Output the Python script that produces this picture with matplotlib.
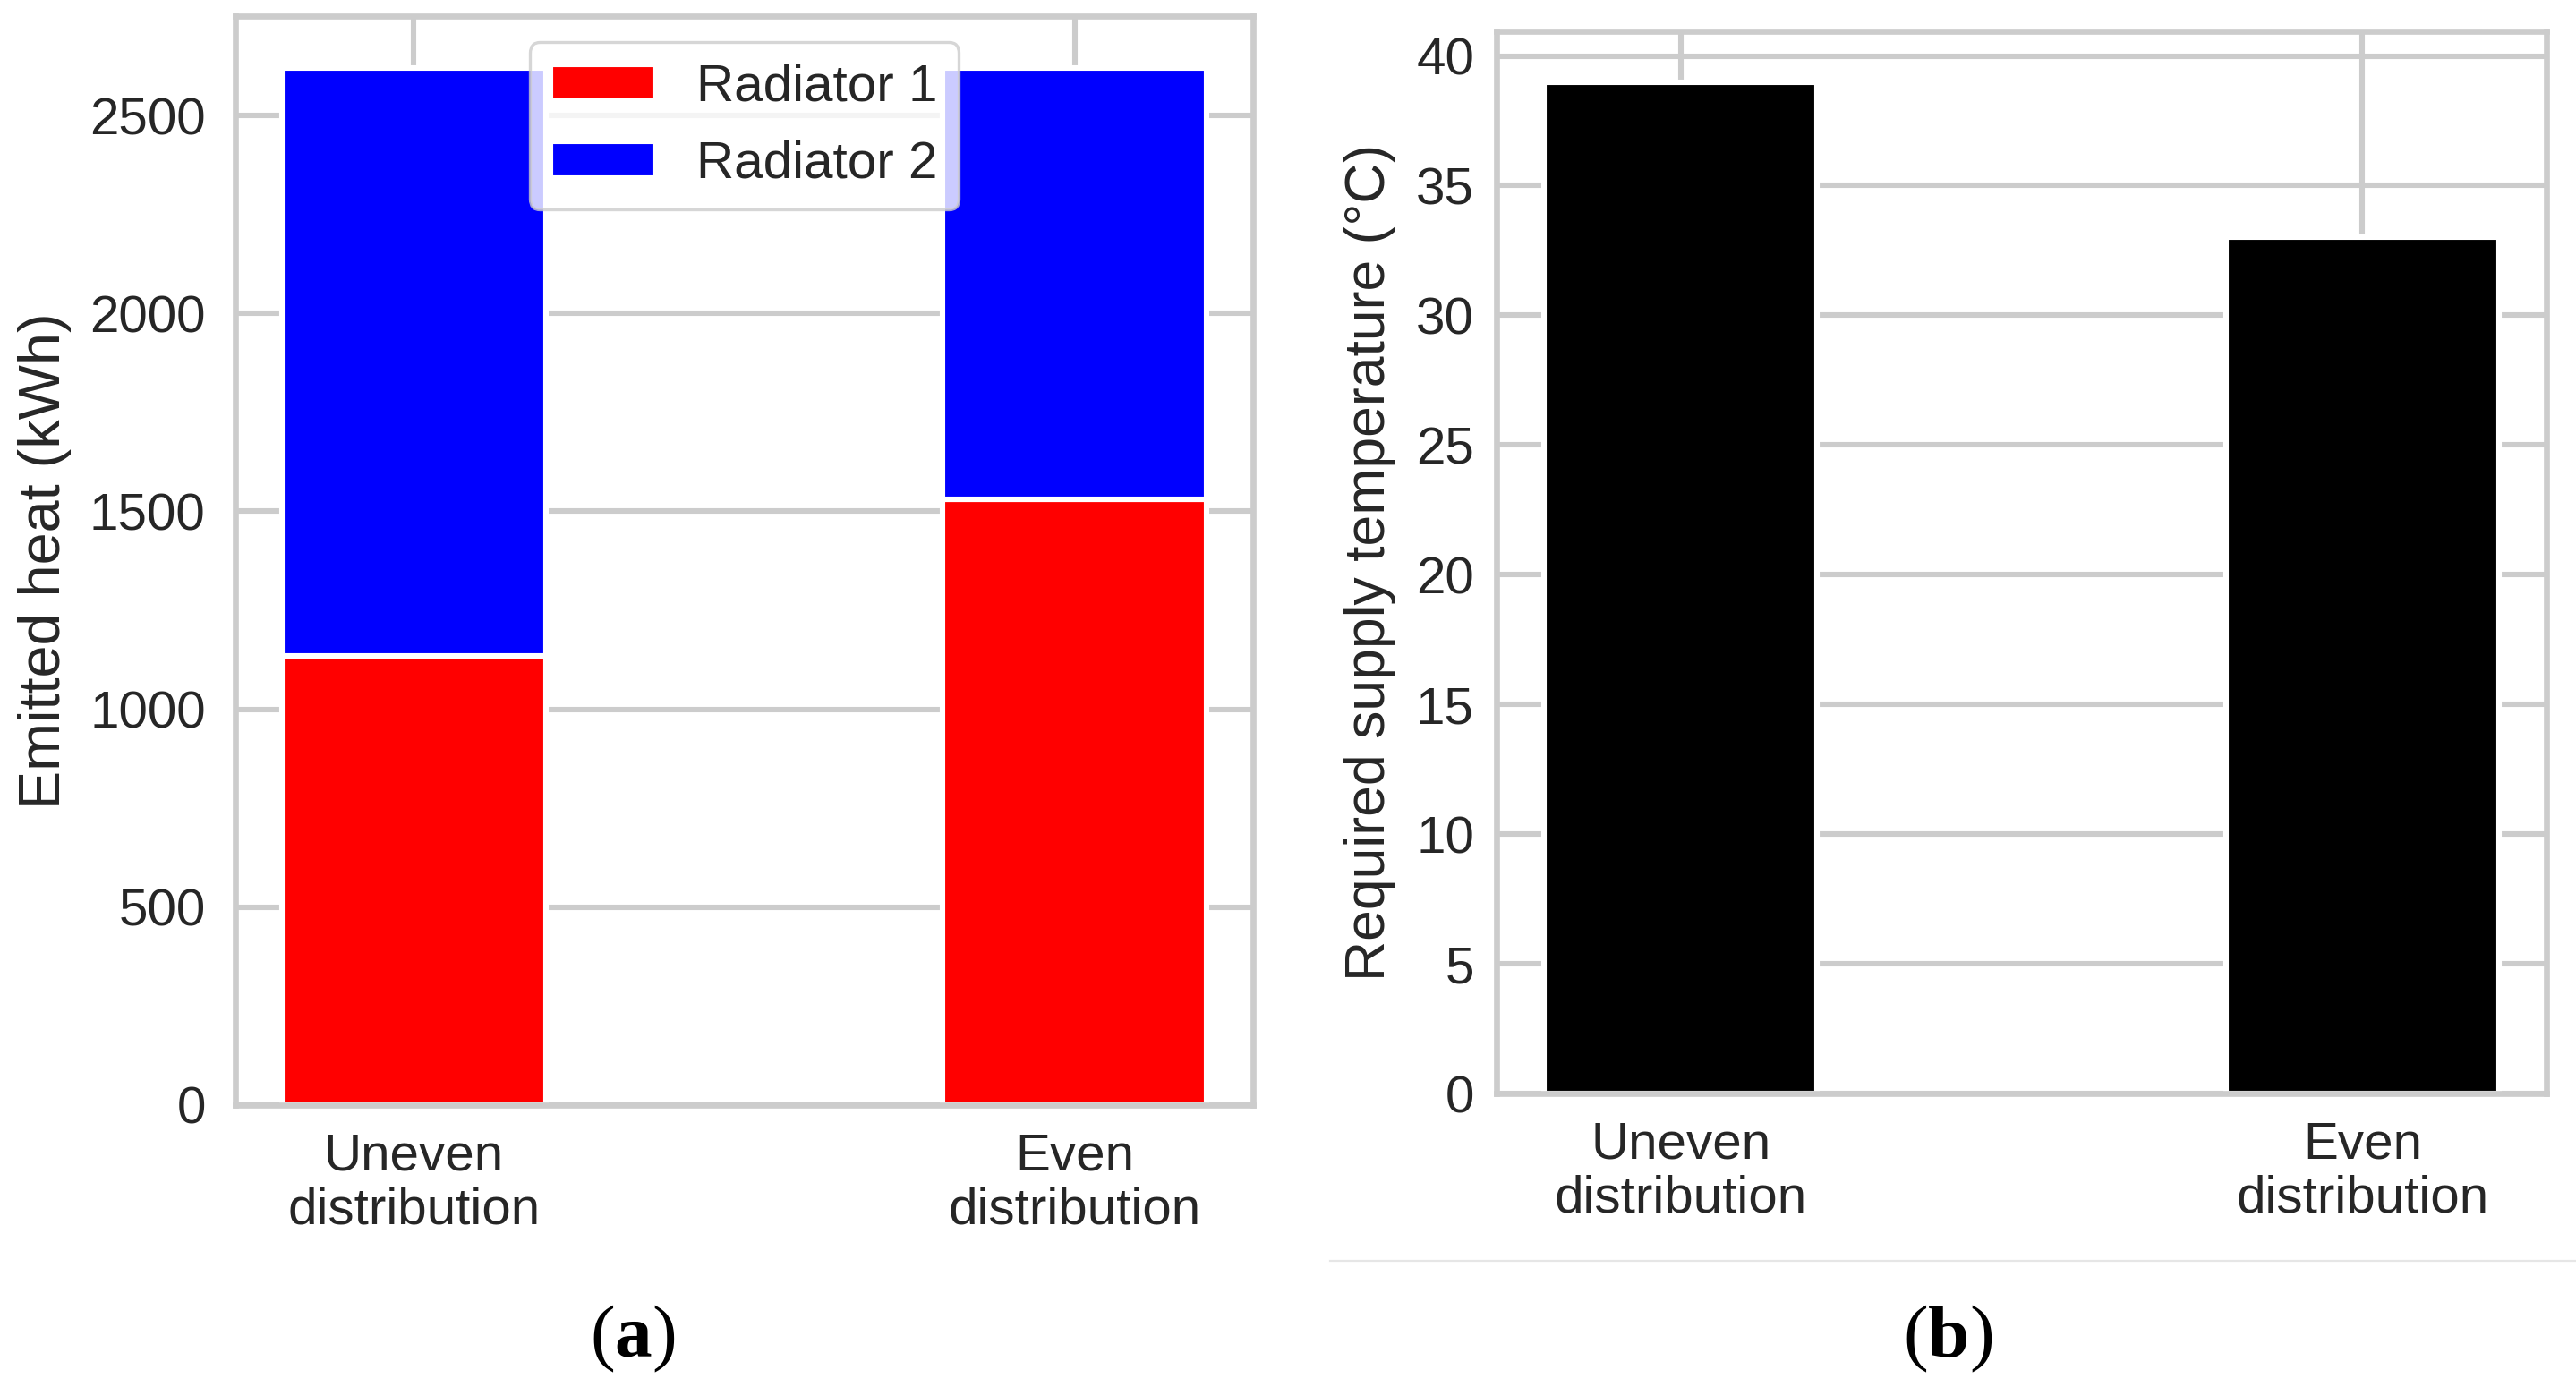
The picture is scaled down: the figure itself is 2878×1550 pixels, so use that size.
#! /usr/bin/python3
"""Emitted heat per radiator and required supply temperature, two panels."""

import matplotlib
matplotlib.use("Agg")
import matplotlib.pyplot as plt
from matplotlib.lines import Line2D

categories = ["Uneven\ndistribution", "Even\ndistribution"]
radiator_1 = [1135, 1530]
radiator_2 = [1485, 1090]
supply_temperature = [39.0, 33.0]

heat_ticks = [0, 500, 1000, 1500, 2000, 2500]
temp_ticks = [0, 5, 10, 15, 20, 25, 30, 35, 40]

GRAY = "#cccccc"
TEXT = "#262626"

plt.rcParams["font.family"] = ["Liberation Sans", "DejaVu Sans"]
plt.rcParams["mathtext.fontset"] = "custom"
plt.rcParams["mathtext.bf"] = "Liberation Serif:bold"
plt.rcParams["mathtext.rm"] = "Liberation Serif"
plt.rcParams["text.color"] = TEXT
plt.rcParams["axes.labelcolor"] = TEXT
plt.rcParams["xtick.color"] = TEXT
plt.rcParams["ytick.color"] = TEXT

fig = plt.figure(figsize=(14.39, 7.75), dpi=200)
W, H = 2878.0, 1550.0


def box(x0, x1, top, bottom):
  return [x0 / W, 1 - bottom / H, (x1 - x0) / W, (bottom - top) / H]


def style(ax, ypad):
  ax.set_axisbelow(True)
  ax.grid(True, color=GRAY, linewidth=2.2)
  for spine in ax.spines.values():
    spine.set_color(GRAY)
    spine.set_linewidth(2.4)
  ax.tick_params(axis="both", length=0, labelsize=21)
  ax.tick_params(axis="y", pad=ypad)
  ax.tick_params(axis="x", pad=11)


ax1 = fig.add_axes(box(263, 1400, 18, 1235))
x = list(range(len(categories)))
ax1.bar(x, radiator_1, width=0.4, color="#ff0000", edgecolor="white",
        linewidth=2.2, label="Radiator 1")
ax1.bar(x, radiator_2, width=0.4, bottom=radiator_1, color="#0000ff",
        edgecolor="white", linewidth=2.2, label="Radiator 2")
style(ax1, 12)
ax1.set_yticks(heat_ticks)
ax1.set_xticks(x)
ax1.set_xticklabels(categories, linespacing=1.15)
ax1.set_ylabel("Emitted heat (kWh)", fontsize=23.3)
ax1.yaxis.set_label_coords(-0.161, 0.5)
leg = ax1.legend(loc="upper center", fontsize=21, labelspacing=0.55,
                 framealpha=0.8, edgecolor=GRAY, fancybox=True)
leg.get_frame().set_linewidth(1.2)

ax2 = fig.add_axes(box(1672, 2845, 35, 1222))
ax2.bar(x, supply_temperature, width=0.4, color="black", edgecolor="white",
        linewidth=2.2)
style(ax2, 9)
ax2.set_yticks(temp_ticks)
ax2.set_xticks(x)
ax2.set_xticklabels(categories, linespacing=1.15)
ax2.set_ylabel("Required supply temperature (\u00b0C)", fontsize=22.5)
ax2.yaxis.set_label_coords(-0.0955, 0.5)

fig.add_artist(Line2D([1486 / W, 1.0], [1 - 1409 / H] * 2,
                      transform=fig.transFigure, color="#e6e6e6",
                      linewidth=0.8))
fig.text(707 / W, 1 - 1496 / H, r"($\mathbf{a}$)", fontsize=30,
         family="Liberation Serif", color="black", ha="center", va="center")
fig.text(2176 / W, 1 - 1496 / H, r"($\mathbf{b}$)", fontsize=30,
         family="Liberation Serif", color="black", ha="center", va="center")

fig.savefig("out.png", dpi=200, facecolor="white")
